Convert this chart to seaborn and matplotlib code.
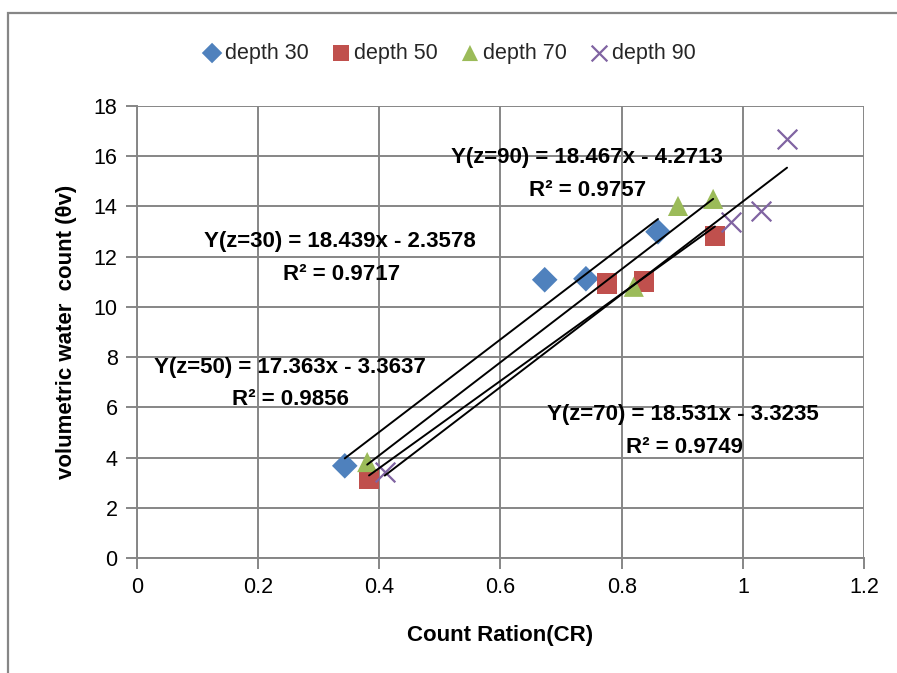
import numpy as np
import pandas as pd
import matplotlib
matplotlib.use("Agg")
import matplotlib.pyplot as plt
import matplotlib.patches as mpatches
import seaborn as sns

# ── Data ──────────────────────────────────────────────────────────────────────
depths = ["depth 30", "depth 50", "depth 70", "depth 90"]

cr_30 = [0.343, 0.673, 0.741, 0.860]
wc_30 = [3.67, 11.08, 11.12, 12.99]

cr_50 = [0.383, 0.776, 0.837, 0.954]
wc_50 = [3.15, 10.92, 11.00, 12.83]

cr_70 = [0.380, 0.820, 0.893, 0.951]
wc_70 = [3.82, 10.80, 14.02, 14.30]

cr_90 = [0.409, 0.981, 1.030, 1.073]
wc_90 = [3.43, 13.40, 13.80, 16.70]

# trendline coefficients as printed on the chart (slope, intercept, r2)
slopes     = [18.439, 17.363, 18.531, 18.467]
intercepts = [-2.3578, -3.3637, -3.3235, -4.2713]
r2_values  = [0.9717, 0.9856, 0.9749, 0.9757]

x_ticks = [0, 0.2, 0.4, 0.6, 0.8, 1, 1.2]
y_ticks = [0, 2, 4, 6, 8, 10, 12, 14, 16, 18]

# ── Style ─────────────────────────────────────────────────────────────────────
BLUE   = "#4F81BD"
RED    = "#C0504D"
GREEN  = "#9BBB59"
PURPLE = "#8064A2"
GRID   = "#868686"
FONT   = ["Liberation Sans Narrow", "Liberation Sans", "DejaVu Sans"]

sns.set_theme(style="white")
plt.rcParams["font.family"] = FONT

df = pd.DataFrame({
    "cr":    cr_30 + cr_50 + cr_70 + cr_90,
    "wc":    wc_30 + wc_50 + wc_70 + wc_90,
    "depth": [d for d, xs in zip(depths, [cr_30, cr_50, cr_70, cr_90]) for _ in xs],
})

fig = plt.figure(figsize=(8.97, 6.73), dpi=100)
ax = fig.add_axes([0.1527, 0.1709, 0.9632 - 0.1527, 0.8425 - 0.1709])

# outer chart border
fig.patches.append(mpatches.Rectangle((8 / 897, -0.05), 1.1, 0.05 + 1 - 13 / 673,
                                      transform=fig.transFigure, fill=False,
                                      edgecolor=GRID, linewidth=1.6))

colors  = {"depth 30": BLUE, "depth 50": RED, "depth 70": GREEN, "depth 90": PURPLE}
markers = {"depth 30": "D", "depth 50": "s", "depth 70": "^", "depth 90": "x"}
sizes   = {"depth 30": 170, "depth 50": 220, "depth 70": 210, "depth 90": 200}

for d in depths:
    sub = df[df["depth"] == d]
    sns.scatterplot(data=sub, x="cr", y="wc", ax=ax, color=colors[d],
                    marker=markers[d], s=sizes[d], label=d, zorder=3,
                    linewidth=1.6 if d == "depth 90" else 0,
                    edgecolor=None if d == "depth 90" else "none")

# Excel-style linear trendlines (min x to max x of each series)
for xs, m, b in zip([cr_30, cr_50, cr_70, cr_90], slopes, intercepts):
    xl = np.array([min(xs), max(xs)])
    ax.plot(xl, m * xl + b, color="black", lw=1.4, zorder=4)

# equation labels
label_pos = [(0.335, 12.6), (0.252, 7.6), (0.901, 5.7), (0.742, 15.95)]
for (lx, ly), name, m, b, r2 in zip(label_pos, ["30", "50", "70", "90"],
                                     slopes, intercepts, r2_values):
    ax.text(lx, ly, f"Y(z={name}) = {m}x - {abs(b)}", ha="center", va="center",
            fontsize=16, fontweight="bold", color="black", zorder=5)
    ax.text(lx + 0.002, ly - 1.3, f"R² = {r2}", ha="center", va="center",
            fontsize=16, fontweight="bold", color="black", zorder=5)

ax.set_xlim(0, 1.2)
ax.set_ylim(0, 18)
ax.set_xticks(x_ticks)
ax.set_xticklabels(["0", "0.2", "0.4", "0.6", "0.8", "1", "1.2"])
ax.set_yticks(y_ticks)
ax.grid(True, color=GRID, linewidth=1.4)
ax.set_axisbelow(True)
for side in ["top", "right"]:
    ax.spines[side].set_visible(False)
for side in ["left", "bottom"]:
    ax.spines[side].set_color(GRID)
    ax.spines[side].set_linewidth(1.4)
ax.tick_params(axis="both", which="major", direction="out", length=8, width=1.4,
               color=GRID, labelsize=15.5, labelcolor="black", pad=6,
               bottom=True, left=True)

ax.set_xlabel("Count Ration(CR)", fontsize=16, fontweight="bold", color="black", labelpad=19)
ax.set_ylabel("volumetric water  count (θv)", fontsize=16, fontweight="bold",
              color="black", labelpad=12)

ax.legend(loc="center", bbox_to_anchor=(0.5, 0.921), bbox_transform=fig.transFigure,
          ncol=4, frameon=False, fontsize=15.5, handletextpad=0.1, columnspacing=1.0,
          markerscale=0.8, handlelength=1.0)

fig.savefig("out.png", dpi=100, facecolor="white")
